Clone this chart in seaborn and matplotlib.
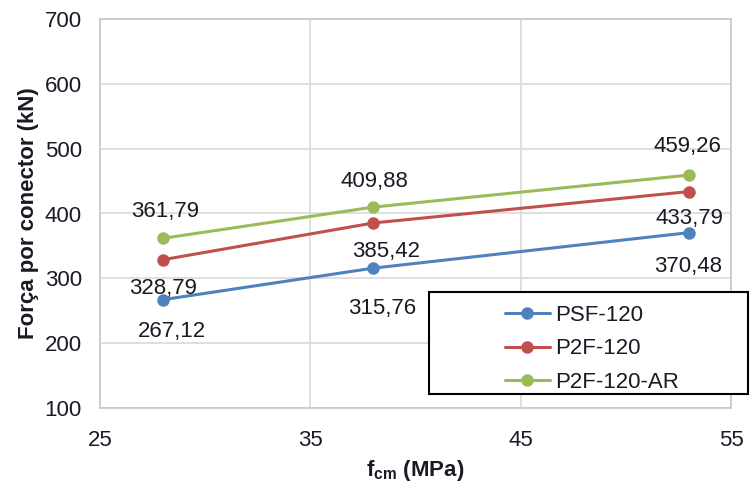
import matplotlib
matplotlib.use("Agg")
import matplotlib.pyplot as plt
import seaborn as sns
import pandas as pd
from matplotlib.patches import Rectangle

# Concrete strength (MPa) for each test group
fcm = [28, 38, 53]
series = ["PSF-120", "P2F-120", "P2F-120-AR"]
psf_120 = [267.12, 315.76, 370.48]
p2f_120 = [328.79, 385.42, 433.79]
p2f_120_ar = [361.79, 409.88, 459.26]
x_ticks = [25, 35, 45, 55]
y_ticks = [100, 200, 300, 400, 500, 600, 700]

colors = {"PSF-120": "#4F81BD", "P2F-120": "#C0504D", "P2F-120-AR": "#9BBB59"}

# label offsets in pixels (dx, dy) per series and point
label_offsets = {
    "PSF-120": [(9, -32), (9, -40), (-1, -34)],
    "P2F-120": [(0, -29), (13, -29), (1, -27)],
    "P2F-120-AR": [(2, 27), (1, 26), (-1, 29)],
}

values = {"PSF-120": psf_120, "P2F-120": p2f_120, "P2F-120-AR": p2f_120_ar}
df = pd.DataFrame(
    [(x, v, s) for s in series for x, v in zip(fcm, values[s])],
    columns=["fcm", "forca", "serie"],
)

sns.set_style("whitegrid", {"grid.color": "#D9D9D9", "axes.edgecolor": "#C8C8C8"})
plt.rcParams["font.family"] = ["Liberation Sans", "DejaVu Sans"]
plt.rcParams["mathtext.fontset"] = "custom"
plt.rcParams["mathtext.bf"] = "Liberation Sans:bold"
plt.rcParams["mathtext.rm"] = "Liberation Sans"

text_color = "#1A1A24"
fs = 16

fig = plt.figure(figsize=(7.51, 4.86), dpi=100)
ax = fig.add_axes([100 / 751, 1 - 408 / 486, 631 / 751, 389 / 486])

sns.lineplot(
    data=df, x="fcm", y="forca", hue="serie", hue_order=series,
    palette=colors, marker="o", markersize=9, markeredgewidth=0,
    linewidth=2.2, ax=ax,
)

for s in series:
    for x, v, (dx, dy) in zip(fcm, values[s], label_offsets[s]):
        ax.annotate(
            f"{v:.2f}".replace(".", ","), (x, v), xytext=(dx, dy),
            textcoords="offset pixels", ha="center", va="center",
            fontsize=fs, color=text_color, zorder=10,
        )

ax.set_xlim(25, 55)
ax.set_ylim(100, 700)
ax.set_xticks(x_ticks)
ax.set_yticks(y_ticks)
ax.tick_params(axis="x", length=0, pad=16, labelsize=fs, labelcolor=text_color)
ax.tick_params(axis="y", length=0, pad=13, labelsize=fs, labelcolor=text_color)
ax.grid(True, color="#D9D9D9", linewidth=1.2)
for sp in ax.spines.values():
    sp.set_color("#C8C8C8")
    sp.set_linewidth(1.2)

ax.set_xlabel(r"$\mathbf{f_{cm}}$ (MPa)", fontsize=fs, fontweight="bold",
              color=text_color, labelpad=5)
ax.set_ylabel("Força por conector (kN)", fontsize=fs, fontweight="bold",
              color=text_color, labelpad=4)

handles, labels = ax.get_legend_handles_labels()
ax.get_legend().remove()

box = Rectangle((429 / 751, 1 - 394 / 486), (748 - 429) / 751, (394 - 292) / 486,
                transform=fig.transFigure, facecolor="white", edgecolor="black",
                linewidth=1.5, zorder=3)
fig.add_artist(box)
leg = fig.legend(
    handles, labels, loc="upper left", bbox_to_anchor=(494 / 751, 1 - 294 / 486),
    frameon=False, borderpad=0, handlelength=2.0, handletextpad=0.25,
    labelspacing=0.55, fontsize=fs,
)
leg.set_zorder(5)
for t in leg.get_texts():
    t.set_color(text_color)

fig.savefig("out.png", dpi=100)
